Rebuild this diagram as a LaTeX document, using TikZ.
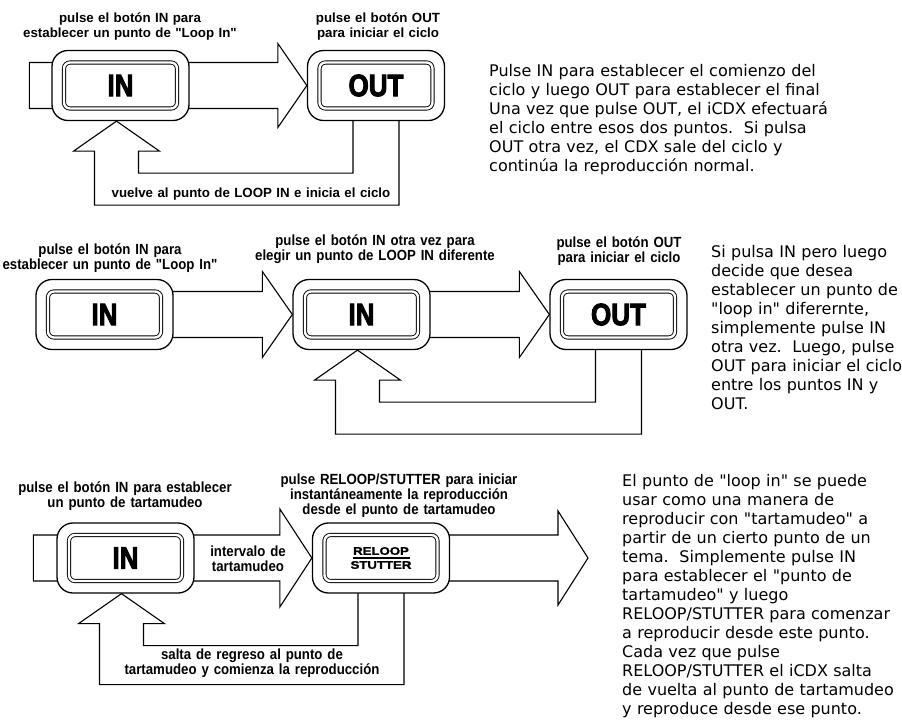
\documentclass[tikz,border=0pt]{standalone}
\usepackage{fontspec}
\setmainfont{DejaVu Sans}[Ligatures=TeXOff]
\newfontfamily\labelfont{Liberation Sans}
\newfontfamily\narrowfont[FakeStretch=0.9]{Liberation Sans}
\newfontfamily\keyfont[FakeStretch=0.84,FakeBold=3]{Liberation Sans}
\newfontfamily\widefont[FakeStretch=1.2,FakeBold=1.5]{Liberation Sans}
\usetikzlibrary{calc,backgrounds}

\begin{document}
\begin{tikzpicture}[x=1pt, y=-1pt, line join=miter,
    btn/.style={draw, line width=1.3pt, fill=white, rounded corners=16pt,
      minimum width=137pt, minimum height=70pt, inner sep=0pt,
      font=\keyfont\bfseries\fontsize{31}{31}\selectfont,
      path picture={\draw[line width=0.9pt, double distance=2.4pt, rounded corners=6pt]
        ([shift={(12pt,-12pt)}]path picture bounding box.north west) rectangle
        ([shift={(-12pt,12pt)}]path picture bounding box.south east);}},
    bigarrow/.style={draw, line width=1.1pt, fill=white},
    backline/.style={draw, line width=1.1pt},
    boldlabel/.style={align=center, text width=330pt, inner sep=0pt, anchor=base,
      font=\labelfont\bfseries\fontsize{13.3}{15}\selectfont},
    narrowlabel/.style={boldlabel, font=\narrowfont\bfseries\fontsize{14.7}{15}\selectfont},
    bodytext/.style={align=left, text width=420pt, inner sep=0pt, anchor=base west,
      font=\fontsize{16}{19}\selectfont}]
\useasboundingbox (0,0) rectangle (902,720);
% First panel
\node [btn] (in1) at (120.5, 85.5) {IN};
\node [btn] (out1) at (376, 85.5) {OUT};
\node [boldlabel] (lab-1-1) at (130, 22.5) {pulse el botón IN para\\establecer un punto de "Loop In"};
\node [boldlabel] (lab-1-2) at (378, 22.5) {pulse el botón OUT\\para iniciar el ciclo};
\node [boldlabel] (lab-1-3) at (251, 197.5) {vuelve al punto de LOOP IN e inicia el ciclo};
\node [bodytext] (txt-1) at (489, 76.5) {Pulse IN para establecer el comienzo del\\
  ciclo y luego OUT para establecer el final\\
  Una vez que pulse OUT, el iCDX efectuará\\
  el ciclo entre esos dos puntos.\ \ Si pulsa\\
  OUT otra vez, el CDX sale del ciclo y\\
  continúa la reproducción normal.};
% Second panel
\node [btn] (in2a) at (104.5, 314.5) {IN};
\node [btn] (in2b) at (361.5, 314.5) {IN};
\node [btn] (out2) at (618.5, 314.5) {OUT};
\node [narrowlabel] (lab-2-1) at (110, 254.5) {pulse el botón IN para\\establecer un punto de "Loop In"};
\node [narrowlabel] (lab-2-2) at (375, 245.5) {pulse el botón IN otra vez para\\elegir un punto de LOOP IN diferente};
\node [narrowlabel] (lab-2-3) at (619, 247) {pulse el botón OUT\\para iniciar el ciclo};
\node [bodytext] (txt-2) at (711, 257.5) {Si pulsa IN pero luego\\
  decide que desea\\
  establecer un punto de\\
  "loop in" diferernte,\\
  simplemente pulse IN\\
  otra vez.\ \ Luego, pulse\\
  OUT para iniciar el ciclo\\
  entre los puntos IN y\\
  OUT.};
% Third panel
\node [btn] (in3) at (125.5, 558) {IN};
\node [btn, align=center, font=\widefont\bfseries\fontsize{11}{11}\selectfont] (rel3) at (381, 558)
  {RELOOP\\[-7pt]\rule{57pt}{1.8pt}\\[-1pt]STUTTER};
\coordinate (end3) at (588, 558);
\node [narrowlabel] (lab-3-1) at (125, 492.5) {pulse el botón IN para establecer\\un punto de tartamudeo};
\node [narrowlabel, font=\narrowfont\bfseries\fontsize{14.7}{13}\selectfont] (lab-3-2) at (399, 484.5)
  {pulse RELOOP/STUTTER para iniciar\\instantáneamente la reproducción\\desde el punto de tartamudeo};
\node [narrowlabel] (lab-3-3) at (248, 556) {intervalo de\\tartamudeo};
\node [narrowlabel] (lab-3-4) at (252, 659) {salta de regreso al punto de\\tartamudeo y comienza la reproducción};
\node [bodytext] (txt-3) at (622, 486.5) {El punto de "loop in" se puede\\
  usar como una manera de\\
  reproducir con "tartamudeo" a\\
  partir de un cierto punto de un\\
  tema.\ \ Simplemente pulse IN\\
  para establecer el "punto de\\
  tartamudeo" y luego\\
  RELOOP/STUTTER para comenzar\\
  a reproducir desde este punto.\\
  Cada vez que pulse\\
  RELOOP/STUTTER el iCDX salta\\
  de vuelta al punto de tartamudeo\\
  y reproduce desde ese punto.};
\begin{scope}[on background layer]
  \fill [white] (0,0) rectangle (902,720);
  % Forward arrows
  \draw [bigarrow] ($(in1.west)+(-22,-23)$) -- ($(out1.west)+(-29,-23)$) -- ++(0,-19) -- (out1.west)
    -- ++(-29,42) -- ++(0,-19) -- ($(in1.west)+(-22,23)$) -- cycle;
  \foreach \a/\b in {in2a/in2b, in2b/out2}
    \draw [bigarrow] ($(\a.center)+(0,-23)$) -- ($(\b.west)+(-30,-23)$) -- ++(0,-20) -- (\b.west)
      -- ++(-30,43) -- ++(0,-20) -- ($(\a.center)+(0,23)$) -- cycle;
  \draw [bigarrow] ($(in3.west)+(-23,-23)$) -- ($(rel3.west)+(-32,-23)$) -- ++(0,-26) -- (rel3.west)
    -- ++(-32,49) -- ++(0,-26) -- ($(in3.west)+(-23,23)$) -- cycle;
  \draw [bigarrow] ($(rel3.center)+(0,-23)$) -- ($(end3)+(-30,-23)$) -- ++(0,-24) -- (end3)
    -- ++(-30,47) -- ++(0,-24) -- ($(rel3.center)+(0,23)$) -- cycle;
  % Return loops
  \foreach \a/\b/\d in {in1/out1/84, in2b/out2/84, in3/rel3/91} {
    \coordinate (tip) at ($(\a.south)+(-4,0)$);
    \draw [backline] ($(\b.south)+(-23,-10)$) |- ($(tip)+(22,52)$) -- ($(tip)+(22,30)$)
      -- ($(tip)+(43,30)$) -- (tip) -- ($(tip)+(-43,30)$) -- ($(tip)+(-22,30)$)
      |- ($(\b.south)+(23,\d)$) -- ($(\b.south)+(23,-10)$);
  }
\end{scope}
\end{tikzpicture}
\end{document}
